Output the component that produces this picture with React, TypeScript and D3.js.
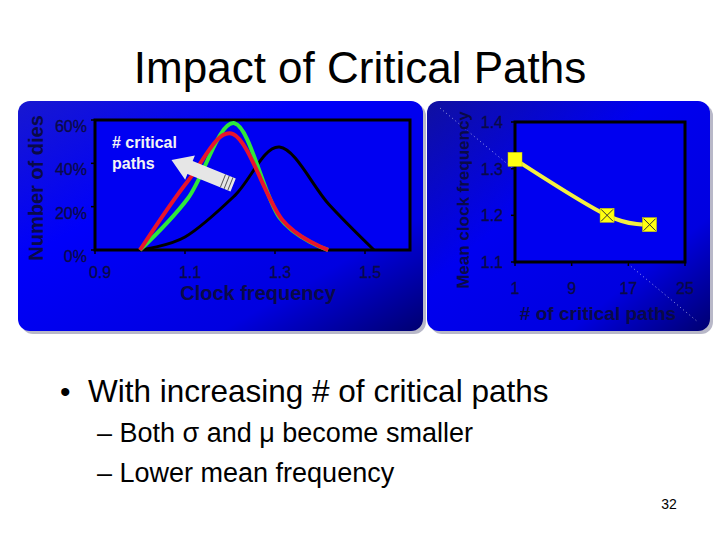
import React from 'react';
import * as d3 from 'd3';

// left chart: distribution of clock frequency
const clockBase = [1.0, 1.1, 1.21, 1.31, 1.42, 1.52];
const diesBase = [0, 6, 25, 47.5, 21, 0];
const clockGreen = [1.0, 1.107, 1.21, 1.31, 1.418];
const diesGreen = [0, 24, 58.5, 15, 0];
const clockRed = [1.0, 1.107, 1.207, 1.316, 1.418];
const diesRed = [0, 32, 53.5, 14, 0];
const clockTicks = [0.9, 1.1, 1.3, 1.5];
const diesTicks = [0, 20, 40, 60];

// right chart: mean frequency vs # critical paths
const pathCounts = [1, 14, 20];
const meanFreq = [1.32, 1.2, 1.18];
const pathTicks = [1, 9, 17, 25];
const meanTicks = [1.1, 1.2, 1.3, 1.4];

const FONT = '"Liberation Sans", Arial, sans-serif';
const NAVY = '#0a0a48';

const App: React.FC = () => {
  const x1 = d3.scaleLinear().domain([0.9, 1.6]).range([95, 410]);
  const y1 = d3.scaleLinear().domain([0, 60]).range([250, 120]);
  const x2 = d3.scaleLinear().domain([1, 25]).range([515, 685]);
  const y2 = d3.scaleLinear().domain([1.1, 1.4]).range([262, 122]);

  const curve = (xs: number[], ys: number[]) =>
    d3.line<number>()
      .x((_, i) => x1(xs[i]))
      .y((_, i) => y1(ys[i]))
      .curve(d3.curveCardinal.tension(0))(ys) || '';

  const meanLine = d3.line<number>()
    .x((_, i) => x2(pathCounts[i]))
    .y(d => y2(d))
    .curve(d3.curveCardinal.tension(0))(meanFreq) || '';

  // block arrow pointing toward more critical paths
  const tip: [number, number] = [x1(1.07), y1(41.5)];
  const tail: [number, number] = [x1(1.207), y1(30)];
  const ang = (Math.atan2(tip[1] - tail[1], tip[0] - tail[0]) * 180) / Math.PI;
  const len = Math.hypot(tip[0] - tail[0], tip[1] - tail[1]);

  return (
    <div style={{ position: 'absolute', left: 0, top: 0 }}>
      <svg width={720} height={540} style={{ display: 'block', background: '#fff' }} fontFamily={FONT}>
        <defs>
          <linearGradient id="panelL" x1="0" y1="0" x2="1" y2="1">
            <stop offset="0" stopColor="#1818d0" />
            <stop offset="0.35" stopColor="#0000fa" />
            <stop offset="0.75" stopColor="#0000e0" />
            <stop offset="1" stopColor="#000070" />
          </linearGradient>
          <linearGradient id="panelR" x1="0" y1="0" x2="1" y2="1">
            <stop offset="0" stopColor="#1010a0" />
            <stop offset="0.4" stopColor="#0000f0" />
            <stop offset="0.75" stopColor="#0000e0" />
            <stop offset="1" stopColor="#000070" />
          </linearGradient>
        </defs>

        <text x={360} y={83} textAnchor="middle" fontSize={44} fill="#000">Impact of Critical Paths</text>

        {/* panels */}
        <rect x={21} y={104} width={405} height={230} rx={12} fill="#b8b8c8" />
        <rect x={18} y={101} width={405} height={230} rx={12} fill="url(#panelL)" />
        <rect x={430} y={104} width={283} height={230} rx={12} fill="#b8b8c8" />
        <rect x={427} y={101} width={283} height={230} rx={12} fill="url(#panelR)" />
        <line x1={440} y1={108} x2={698} y2={322} stroke="#ffffff" strokeOpacity={0.6} strokeWidth={1} strokeDasharray="1,3" />

        {/* left chart */}
        <rect x={x1(0.9)} y={y1(60)} width={x1(1.6) - x1(0.9)} height={y1(0) - y1(60)} fill="#0000f2" stroke="#000" strokeWidth={3} />
        {diesTicks.map(t => (
          <g key={t}>
            <line x1={x1(0.9) - 4} x2={x1(0.9)} y1={y1(t)} y2={y1(t)} stroke="#000" strokeWidth={1.5} />
            <text x={87} y={y1(t) + 12} textAnchor="end" fontSize={16} fill={NAVY} stroke={NAVY} strokeWidth={0.3}>{t}%</text>
          </g>
        ))}
        {clockTicks.map(t => (
          <g key={t}>
            <line x1={x1(t)} x2={x1(t)} y1={y1(0)} y2={y1(0) + 4} stroke="#000" strokeWidth={1.5} />
            <text x={x1(t) + 5} y={278} textAnchor="middle" fontSize={16} fill={NAVY} stroke={NAVY} strokeWidth={0.3}>{t.toFixed(1)}</text>
          </g>
        ))}
        <text x={258} y={300} textAnchor="middle" fontSize={20} fontWeight="bold" fill={NAVY}>Clock frequency</text>
        <text transform="translate(43,188) rotate(-90)" textAnchor="middle" fontSize={20} fontWeight="bold" fill={NAVY}>Number of dies</text>

        <path d={curve(clockBase, diesBase)} fill="none" stroke="#000" strokeWidth={3} />
        <path d={curve(clockGreen, diesGreen)} fill="none" stroke="#2ee83a" strokeWidth={4} />
        <path d={curve(clockRed, diesRed)} fill="none" stroke="#e8142c" strokeWidth={4} />

        <g transform={`translate(${tail[0]},${tail[1]}) rotate(${ang})`}>
          <polygon
            points={`0,-7 ${len - 20},-7 ${len - 20},-13 ${len},0 ${len - 20},13 ${len - 20},7 0,7`}
            fill="#e6e6e6"
          />
          {[3, 7, 11].map(s => (
            <line key={s} x1={s} x2={s} y1={-7} y2={7} stroke="#555" strokeWidth={1} />
          ))}
        </g>
        <text x={112} y={148} fontSize={16} fontWeight="bold" fill="#f4f4f4">
          <tspan x={112}># critical</tspan>
          <tspan x={112} dy={21}>paths</tspan>
        </text>

        {/* right chart */}
        <rect x={x2(1)} y={y2(1.4)} width={x2(25) - x2(1)} height={y2(1.1) - y2(1.4)} fill="#0000f0" stroke="#000" strokeWidth={3} />
        {meanTicks.map(t => (
          <g key={t}>
            <line x1={x2(1) - 4} x2={x2(1)} y1={y2(t)} y2={y2(t)} stroke="#000" strokeWidth={1.5} />
            <text x={503} y={y2(t) + 6} textAnchor="end" fontSize={16} fill={NAVY} stroke={NAVY} strokeWidth={0.3}>{t.toFixed(1)}</text>
          </g>
        ))}
        {pathTicks.map(t => (
          <g key={t}>
            <line x1={x2(t)} x2={x2(t)} y1={y2(1.1)} y2={y2(1.1) + 4} stroke="#000" strokeWidth={1.5} />
            <text x={x2(t)} y={294} textAnchor="middle" fontSize={16} fill={NAVY} stroke={NAVY} strokeWidth={0.3}>{t}</text>
          </g>
        ))}
        <text x={598} y={320} textAnchor="middle" fontSize={19} fontWeight="bold" fill={NAVY}># of critical paths</text>
        <text transform="translate(469,200) rotate(-90)" textAnchor="middle" fontSize={17} fontWeight="bold" fill={NAVY}>Mean clock frequency</text>

        <path d={meanLine} fill="none" stroke="#f4f040" strokeWidth={4} />
        {pathCounts.map((p, i) => {
          const cx = x2(p);
          const cy = y2(meanFreq[i]);
          return (
            <g key={p}>
              <rect x={cx - 7} y={cy - 7} width={14} height={14} fill="#ffff10" stroke="#c8c800" strokeWidth={0.5} />
              {i > 0 && (
                <g stroke="#333" strokeWidth={1}>
                  <line x1={cx - 6} y1={cy - 6} x2={cx + 6} y2={cy + 6} />
                  <line x1={cx + 6} y1={cy - 6} x2={cx - 6} y2={cy + 6} />
                </g>
              )}
            </g>
          );
        })}

        {/* bullet text */}
        <text x={60} y={402} fontSize={30} fill="#000">•</text>
        <text x={88} y={402} fontSize={31.5} fill="#000">With increasing # of critical paths</text>
        <text x={97} y={442} fontSize={27} fill="#000">– Both σ and μ become smaller</text>
        <text x={97} y={482} fontSize={27} fill="#000">– Lower mean frequency</text>
        <text x={669} y={509} textAnchor="middle" fontSize={14} fill="#000">32</text>
      </svg>
    </div>
  );
};

export default App;
